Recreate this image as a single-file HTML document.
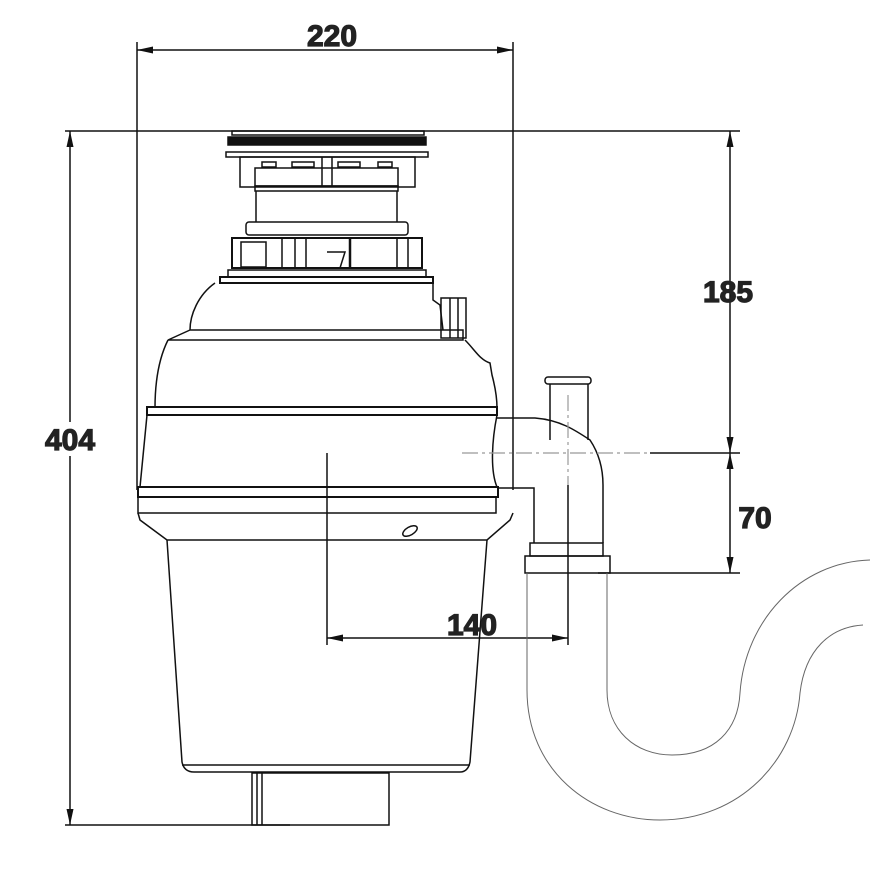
<!DOCTYPE html>
<html><head><meta charset="utf-8"><style>
html,body{margin:0;padding:0;background:#fff;}
svg{display:block}
text{font-family:"Liberation Sans",Arial,sans-serif;font-weight:bold;font-size:30px;fill:#222;stroke:#222;stroke-width:1.2}
</style></head><body>
<svg width="874" height="881" viewBox="0 0 874 881" xmlns="http://www.w3.org/2000/svg">
<defs>
<marker id="a" viewBox="0 0 16 10" refX="16" refY="5" markerWidth="16" markerHeight="10" orient="auto-start-reverse" markerUnits="userSpaceOnUse"><path d="M0,1.5 L16,5 L0,8.5 z" fill="#111"/></marker>
</defs>
<g stroke="#111" stroke-width="1.5" fill="none">
<line x1="137" y1="42" x2="137" y2="490"/>
<line x1="513" y1="42" x2="513" y2="490"/>
<line x1="137" y1="50" x2="513" y2="50" marker-start="url(#a)" marker-end="url(#a)"/>
<line x1="65" y1="131" x2="740" y2="131"/>
<line x1="70" y1="131" x2="70" y2="825" marker-start="url(#a)" marker-end="url(#a)"/>
<line x1="65" y1="825" x2="290" y2="825"/>
<line x1="730" y1="131" x2="730" y2="453" marker-start="url(#a)" marker-end="url(#a)"/>
<line x1="730" y1="453" x2="730" y2="573" marker-start="url(#a)" marker-end="url(#a)"/>
<line x1="650" y1="453" x2="740" y2="453"/>
<line x1="598" y1="573" x2="740" y2="573"/>
<line x1="327" y1="453" x2="327" y2="645"/>
<line x1="568" y1="485" x2="568" y2="645"/>
<line x1="327" y1="638" x2="568" y2="638" marker-start="url(#a)" marker-end="url(#a)"/>
<rect x="232" y="131" width="192" height="4"/>
<rect x="228" y="137" width="198" height="8" fill="#111"/>
<rect x="226" y="152" width="202" height="5"/>
<rect x="240" y="157" width="175" height="30"/>
<rect x="255" y="168" width="143" height="18"/>
<line x1="322" y1="157" x2="322" y2="186"/><line x1="332" y1="157" x2="332" y2="186"/>
<rect x="262" y="162" width="14" height="5"/><rect x="292" y="162" width="22" height="5"/>
<rect x="338" y="162" width="22" height="5"/><rect x="378" y="162" width="14" height="5"/>
<rect x="255" y="186" width="143" height="5"/>
<line x1="256" y1="191" x2="256" y2="222"/><line x1="397" y1="191" x2="397" y2="222"/>
<rect x="246" y="222" width="162" height="13" rx="3"/>
<rect x="232" y="238" width="190" height="30" stroke-width="2"/>
<rect x="241" y="242" width="25" height="25"/>
<line x1="282" y1="238" x2="282" y2="268"/><line x1="295" y1="238" x2="295" y2="268"/>
<line x1="306" y1="238" x2="306" y2="268"/><line x1="350" y1="238" x2="350" y2="268" stroke-width="2.5"/>
<line x1="397" y1="238" x2="397" y2="268"/><line x1="408" y1="238" x2="408" y2="268"/>
<path d="M327,252 L345,252 L340,268"/>
<rect x="228" y="270" width="198" height="7"/>
<rect x="220" y="277" width="213" height="6" stroke-width="2"/>
<path d="M215,283 C198,295 190,315 190,330 L463,330 L463,340 L168,340 L190,330"/>
<path d="M433,283 L433,300 L440,305 L443,330"/>
<rect x="441" y="298" width="25" height="40"/>
<line x1="450" y1="298" x2="450" y2="338"/><line x1="458" y1="298" x2="458" y2="338"/>
<path d="M168,340 C158,360 155,385 155,408"/>
<path d="M465,340 C475,350 480,360 490,363 L492,375 C496,390 497,400 497,408"/>
<rect x="147" y="407" width="350" height="8" stroke-width="2"/>
<path d="M147,415 L140,487 L497,487 C490,470 492,440 497,415"/>
<rect x="138" y="487" width="360" height="10" stroke-width="2"/>
<path d="M138,497 L138,513 L496,513 L496,497"/>
<path d="M138,513 L140,520 L167,540 L487,540 L510,520 L513,513"/>
<path d="M167,540 L182,762 Q184,772 194,772 L460,772 Q468,772 470,762 L487,540"/>
<line x1="182" y1="765" x2="470" y2="765"/>
<ellipse cx="410" cy="531" rx="8" ry="4" transform="rotate(-30 410 531)"/>
<rect x="252" y="773" width="137" height="52"/>
<line x1="257" y1="773" x2="257" y2="825"/><line x1="262" y1="773" x2="262" y2="825"/>
<path d="M497,418 L535,418 C560,420 575,430 590,440 C600,455 603,470 603,485 L603,543"/>
<path d="M497,488 L534,488 L534,543"/>
<path d="M550,440 L550,384 M588,440 L588,384"/>
<rect x="545" y="377" width="46" height="7" rx="3"/>
<rect x="530" y="543" width="73" height="13"/>
<rect x="525" y="556" width="85" height="17"/>
</g>
<g stroke="#999" stroke-width="1.2" fill="none" stroke-dasharray="16,4,3,4">
<line x1="462" y1="453" x2="650" y2="453"/>
<line x1="568" y1="395" x2="568" y2="485"/>
</g>
<g stroke="#666" stroke-width="1" fill="none">
<path d="M527,573 L527,690 C527,770 590,820 660,820 C740,820 795,760 800,693 C805,650 830,627 863,625"/>
<path d="M607,573 L607,690 C607,730 635,755 672,755 C715,755 738,730 740,693 C745,620 800,562 870,560"/>
</g>
<rect x="40" y="422" width="62" height="34" fill="#fff"/>
<text x="332" y="46" text-anchor="middle">220</text>
<text x="70" y="450" text-anchor="middle">404</text>
<text x="728" y="302" text-anchor="middle">185</text>
<text x="755" y="528" text-anchor="middle">70</text>
<text x="472" y="635" text-anchor="middle">140</text>
</svg>
</body></html>
